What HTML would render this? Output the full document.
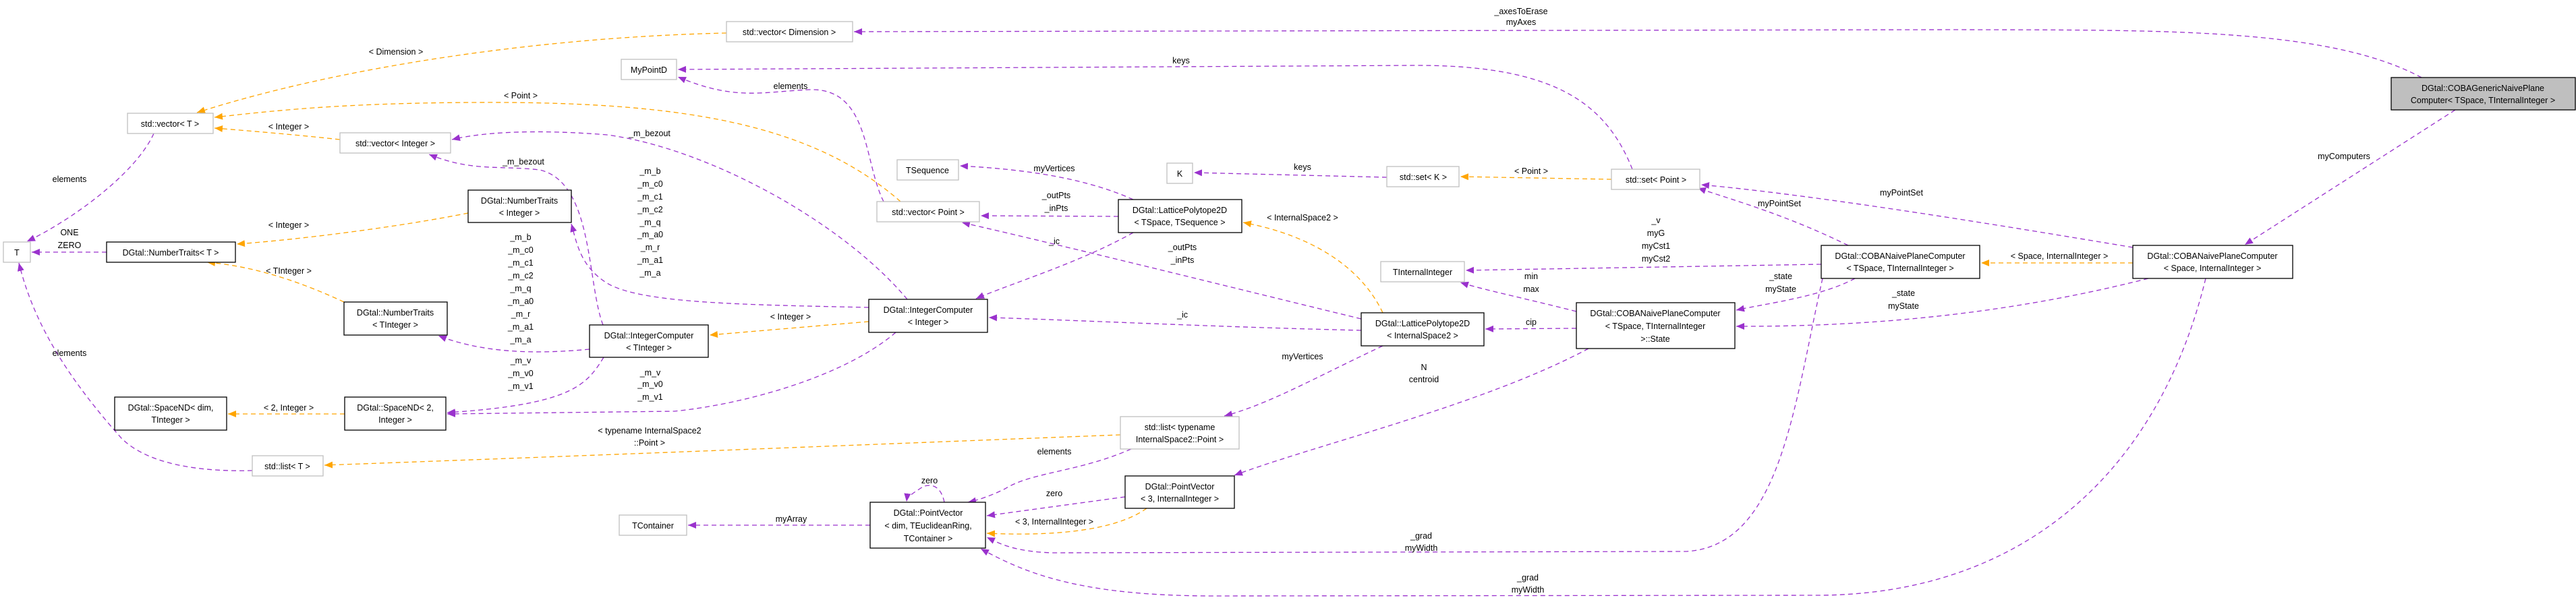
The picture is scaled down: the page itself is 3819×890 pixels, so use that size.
<!DOCTYPE html>
<html><head><meta charset="utf-8"><style>
html,body{margin:0;padding:0;background:#fff;}
svg{display:block;}
text{font-family:"Liberation Sans",sans-serif;font-size:12.5px;fill:#000;}
.p{fill:none;stroke:#9a32cd;stroke-width:1.3;stroke-dasharray:7,5;}
.o{fill:none;stroke:#ffa500;stroke-width:1.3;stroke-dasharray:7,5;}
.nb{fill:#fff;stroke:#000;stroke-width:1.3;}
.ng{fill:#fff;stroke:#bfbfbf;stroke-width:1.3;}
</style></head><body>
<svg width="3819" height="890" viewBox="0 0 3819 890" xmlns="http://www.w3.org/2000/svg">
<defs>
<marker id="ap" markerUnits="userSpaceOnUse" markerWidth="14" markerHeight="12" refX="12" refY="5" orient="auto"><path d="M0,0 L12,5 L0,10 z" fill="#9a32cd"/></marker>
<marker id="ao" markerUnits="userSpaceOnUse" markerWidth="14" markerHeight="12" refX="12" refY="5" orient="auto"><path d="M0,0 L12,5 L0,10 z" fill="#ffa500"/></marker>
</defs>

<!-- purple edges -->
<g marker-end="url(#ap)">
<path class="p" d="M3590,115 C3450,40 3200,45 2900,44 L1266,47"/>
<path class="p" d="M2420,251 C2380,150 2300,97 2100,97 L1005,103"/>
<path class="p" d="M1310,299 C1280,240 1290,130 1200,133 C1130,136 1090,150 1005,114"/>
<path class="p" d="M1680,296 C1600,260 1500,250 1423,246"/>
<path class="p" d="M1658,321 L1454,320"/>
<path class="p" d="M1680,345 C1600,390 1500,420 1447,443"/>
<path class="p" d="M2018,473 C1800,420 1600,370 1426,330"/>
<path class="p" d="M2018,490 C1800,485 1600,475 1466,471"/>
<path class="p" d="M2050,513 C1950,560 1880,600 1815,617"/>
<path class="p" d="M2056,263 L1770,256"/>
<path class="p" d="M1345,444 C1250,330 1050,220 900,200 C800,192 720,195 670,207"/>
<path class="p" d="M894,482 C870,420 880,270 800,252 C740,245 700,255 636,229"/>
<path class="p" d="M874,518 C800,525 720,525 650,498"/>
<path class="p" d="M1288,456 C1100,452 950,450 900,420 C860,395 855,360 847,332"/>
<path class="p" d="M1328,493 C1250,560 1100,600 1000,610 L663,614"/>
<path class="p" d="M895,530 C870,570 850,600 663,612"/>
<path class="p" d="M228,198 C200,260 100,330 40,358"/>
<path class="p" d="M158,374 L47,374"/>
<path class="p" d="M374,698 C300,700 220,690 180,650 C100,560 50,480 28,390"/>
<path class="p" d="M1400,745 C1395,720 1380,717 1368,722 C1360,728 1345,735 1344,744"/>
<path class="p" d="M1677,666 C1600,700 1530,700 1490,725 C1470,735 1450,742 1435,745"/>
<path class="p" d="M1668,737 L1463,765"/>
<path class="p" d="M1290,779 L1020,779"/>
<path class="p" d="M2355,517 C2200,600 1950,660 1830,705"/>
<path class="p" d="M2740,364 C2650,320 2580,300 2517,279"/>
<path class="p" d="M3162,367 C3000,340 2700,290 2522,274"/>
<path class="p" d="M2700,392 L2173,401"/>
<path class="p" d="M2337,462 C2250,440 2200,430 2165,419"/>
<path class="p" d="M2750,413 C2700,440 2620,450 2574,460"/>
<path class="p" d="M3185,413 C3000,460 2800,485 2574,484"/>
<path class="p" d="M2337,487 L2202,488"/>
<path class="p" d="M2702,413 C2660,600 2640,810 2500,818 L1560,820 C1500,818 1480,805 1463,797"/>
<path class="p" d="M3270,413 C3200,700 3000,880 2700,883 L1800,884 C1600,884 1520,850 1454,814"/>
<path class="p" d="M3640,163 L3328,363"/>
</g>

<!-- orange edges -->
<g marker-end="url(#ao)">
<path class="o" d="M3162,390 L2937,390"/>
<path class="o" d="M2389,266 L2165,262"/>
<path class="o" d="M2050,464 C2020,400 1950,350 1843,330"/>
<path class="o" d="M1661,645 C1400,655 900,675 481,690"/>
<path class="o" d="M1700,754 C1650,790 1550,795 1463,791"/>
<path class="o" d="M1288,477 L1052,497"/>
<path class="o" d="M511,614 L338,614"/>
<path class="o" d="M504,207 C440,200 380,195 318,190"/>
<path class="o" d="M1335,299 C1200,180 1000,150 700,152 C500,153 400,165 318,174"/>
<path class="o" d="M1077,49 C800,55 500,100 292,167"/>
<path class="o" d="M694,316 C600,335 450,355 351,362"/>
<path class="o" d="M510,448 C450,420 380,395 307,389"/>
</g>

<!-- nodes -->
<g text-anchor="middle">
<rect class="ng" x="1077" y="32" width="187" height="30"/><text x="1170" y="52">std::vector&lt; Dimension &gt;</text>
<rect class="ng" x="921" y="88" width="82" height="30"/><text x="962" y="108">MyPointD</text>
<rect class="ng" x="189" y="168" width="127" height="30"/><text x="252" y="188">std::vector&lt; T &gt;</text>
<rect class="ng" x="504" y="197" width="164" height="30"/><text x="586" y="217">std::vector&lt; Integer &gt;</text>
<rect class="nb" x="694" y="282" width="153" height="48"/><text x="770" y="302">DGtal::NumberTraits</text><text x="770" y="320">&lt; Integer &gt;</text>
<rect class="ng" x="5" y="359" width="40" height="30"/><text x="25" y="379">T</text>
<rect class="nb" x="158" y="359" width="191" height="30"/><text x="253" y="379">DGtal::NumberTraits&lt; T &gt;</text>
<rect class="nb" x="510" y="448" width="153" height="49"/><text x="586" y="468">DGtal::NumberTraits</text><text x="586" y="486">&lt; TInteger &gt;</text>
<rect class="nb" x="874" y="482" width="176" height="48"/><text x="962" y="502">DGtal::IntegerComputer</text><text x="962" y="520">&lt; TInteger &gt;</text>
<rect class="nb" x="170" y="589" width="166" height="49"/><text x="253" y="609">DGtal::SpaceND&lt; dim,</text><text x="253" y="627">TInteger &gt;</text>
<rect class="nb" x="511" y="589" width="150" height="49"/><text x="586" y="609">DGtal::SpaceND&lt; 2,</text><text x="586" y="627">Integer &gt;</text>
<rect class="ng" x="374" y="676" width="105" height="30"/><text x="426" y="696">std::list&lt; T &gt;</text>
<rect class="ng" x="918" y="764" width="100" height="30"/><text x="968" y="784">TContainer</text>
<rect class="ng" x="1330" y="237" width="91" height="30"/><text x="1375" y="257">TSequence</text>
<rect class="ng" x="1730" y="242" width="38" height="30"/><text x="1749" y="262">K</text>
<rect class="ng" x="1300" y="299" width="152" height="30"/><text x="1376" y="319">std::vector&lt; Point &gt;</text>
<rect class="nb" x="1658" y="296" width="183" height="49"/><text x="1749" y="316">DGtal::LatticePolytope2D</text><text x="1749" y="334">&lt; TSpace, TSequence &gt;</text>
<rect class="nb" x="1288" y="444" width="176" height="49"/><text x="1376" y="464">DGtal::IntegerComputer</text><text x="1376" y="482">&lt; Integer &gt;</text>
<rect class="ng" x="1661" y="618" width="176" height="48"/><text x="1749" y="638">std::list&lt; typename</text><text x="1749" y="656">InternalSpace2::Point &gt;</text>
<rect class="nb" x="1668" y="706" width="162" height="48"/><text x="1749" y="726">DGtal::PointVector</text><text x="1749" y="744">&lt; 3, InternalInteger &gt;</text>
<rect class="nb" x="1290" y="745" width="171" height="68"/><text x="1376" y="765">DGtal::PointVector</text><text x="1376" y="784">&lt; dim, TEuclideanRing,</text><text x="1376" y="803">TContainer &gt;</text>
<rect class="ng" x="2056" y="247" width="107" height="30"/><text x="2110" y="267">std::set&lt; K &gt;</text>
<rect class="ng" x="2389" y="251" width="131" height="30"/><text x="2455" y="271">std::set&lt; Point &gt;</text>
<rect class="ng" x="2047" y="388" width="124" height="30"/><text x="2109" y="408">TInternalInteger</text>
<rect class="nb" x="2700" y="364" width="235" height="49"/><text x="2817" y="384">DGtal::COBANaivePlaneComputer</text><text x="2817" y="402">&lt; TSpace, TInternalInteger &gt;</text>
<rect class="nb" x="2018" y="464" width="182" height="49"/><text x="2109" y="484">DGtal::LatticePolytope2D</text><text x="2109" y="502">&lt; InternalSpace2 &gt;</text>
<rect class="nb" x="2337" y="449" width="235" height="68"/><text x="2454" y="469">DGtal::COBANaivePlaneComputer</text><text x="2454" y="488">&lt; TSpace, TInternalInteger</text><text x="2454" y="507">&gt;::State</text>
<rect class="nb" x="3162" y="364" width="237" height="49"/><text x="3280" y="384">DGtal::COBANaivePlaneComputer</text><text x="3280" y="402">&lt; Space, InternalInteger &gt;</text>
<rect x="3545" y="115" width="273" height="48" fill="#bfbfbf" stroke="#000" stroke-width="1.3"/><text x="3681" y="135">DGtal::COBAGenericNaivePlane</text><text x="3681" y="153">Computer&lt; TSpace, TInternalInteger &gt;</text>
</g>

<!-- edge labels -->
<g text-anchor="middle">
<text x="2255" y="21">_axesToErase</text><text x="2255" y="37">myAxes</text>
<text x="587" y="81">&lt; Dimension &gt;</text>
<text x="1751" y="94">keys</text>
<text x="1172" y="132">elements</text>
<text x="772" y="146">&lt; Point &gt;</text>
<text x="428" y="192">&lt; Integer &gt;</text>
<text x="963" y="202">_m_bezout</text>
<text x="776" y="244">_m_bezout</text>
<text x="1563" y="254">myVertices</text>
<text x="1931" y="252">keys</text>
<text x="2270" y="258">&lt; Point &gt;</text>
<text x="103" y="270">elements</text>
<text x="1566" y="294">_outPts</text><text x="1566" y="313">_inPts</text>
<text x="2819" y="290">myPointSet</text>
<text x="2638" y="306">myPointSet</text>
<text x="1931" y="327">&lt; InternalSpace2 &gt;</text>
<text x="428" y="338">&lt; Integer &gt;</text>
<text x="103" y="349">ONE</text><text x="103" y="368">ZERO</text>
<text x="1563" y="362">_ic</text>
<text x="1753" y="371">_outPts</text><text x="1753" y="390">_inPts</text>
<text x="2455" y="331">_v</text><text x="2455" y="350">myG</text><text x="2455" y="369">myCst1</text><text x="2455" y="388">myCst2</text>
<text x="3053" y="384">&lt; Space, InternalInteger &gt;</text>
<text x="3475" y="236">myComputers</text>
<text x="428" y="406">&lt; TInteger &gt;</text>
<text x="2270" y="414">min</text><text x="2270" y="433">max</text>
<text x="2640" y="414">_state</text><text x="2640" y="433">myState</text>
<text x="2822" y="439">_state</text><text x="2822" y="458">myState</text>
<text x="964" y="258">_m_b</text><text x="964" y="277">_m_c0</text><text x="964" y="296">_m_c1</text><text x="964" y="315">_m_c2</text><text x="964" y="334">_m_q</text><text x="964" y="352">_m_a0</text><text x="964" y="371">_m_r</text><text x="964" y="390">_m_a1</text><text x="964" y="409">_m_a</text>
<text x="772" y="356">_m_b</text><text x="772" y="375">_m_c0</text><text x="772" y="394">_m_c1</text><text x="772" y="413">_m_c2</text><text x="772" y="432">_m_q</text><text x="772" y="451">_m_a0</text><text x="772" y="470">_m_r</text><text x="772" y="489">_m_a1</text><text x="772" y="508">_m_a</text>
<text x="772" y="539">_m_v</text><text x="772" y="558">_m_v0</text><text x="772" y="577">_m_v1</text>
<text x="964" y="557">_m_v</text><text x="964" y="574">_m_v0</text><text x="964" y="593">_m_v1</text>
<text x="1172" y="474">&lt; Integer &gt;</text>
<text x="1753" y="471">_ic</text>
<text x="2270" y="482">cip</text>
<text x="103" y="528">elements</text>
<text x="1931" y="533">myVertices</text>
<text x="2111" y="549">N</text><text x="2111" y="567">centroid</text>
<text x="428" y="609">&lt; 2, Integer &gt;</text>
<text x="963" y="643">&lt; typename InternalSpace2</text><text x="963" y="661">::Point &gt;</text>
<text x="1563" y="674">elements</text>
<text x="1378" y="717">zero</text>
<text x="1563" y="736">zero</text>
<text x="1173" y="774">myArray</text>
<text x="1563" y="778">&lt; 3, InternalInteger &gt;</text>
<text x="2107" y="799">_grad</text><text x="2107" y="817">myWidth</text>
<text x="2265" y="861">_grad</text><text x="2265" y="879">myWidth</text>
</g>
</svg>
</body></html>
